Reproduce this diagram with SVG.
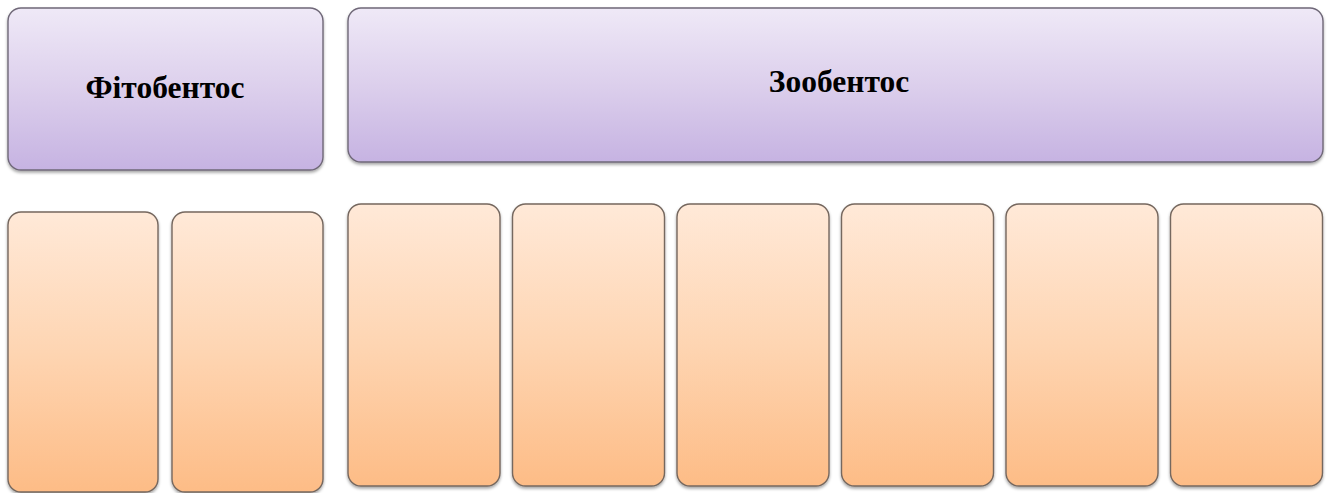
<svg xmlns="http://www.w3.org/2000/svg" width="1330" height="493" viewBox="0 0 1330 493">
<defs>
<linearGradient id="gp" x1="0" y1="0" x2="0" y2="1"><stop offset="0" stop-color="#EFE9F7"/><stop offset="0.5" stop-color="#DCCFEC"/><stop offset="1" stop-color="#C6B3E2"/></linearGradient>
<linearGradient id="go" x1="0" y1="0" x2="0" y2="1"><stop offset="0" stop-color="#FFE9D8"/><stop offset="0.5" stop-color="#FED5B2"/><stop offset="1" stop-color="#FDBC86"/></linearGradient>
<filter id="sh" x="-5%" y="-5%" width="110%" height="115%"><feDropShadow dx="0" dy="2" stdDeviation="1.5" flood-color="#000" flood-opacity="0.35"/></filter>
</defs>
<style>
.p{fill:url(#gp);stroke:#6f6878;stroke-width:1.4;filter:url(#sh)}
.o{fill:url(#go);stroke:#75675e;stroke-width:1.4;filter:url(#sh)}
.t{font-family:"Liberation Serif","DejaVu Serif",serif;font-weight:bold;font-size:31.5px;fill:#000;text-anchor:middle}
</style>
<g id="fitobentos"><rect class="p" x="8" y="8" width="315" height="162" rx="13"/><text class="t" x="165" y="98">Фітобентос</text></g>
<g id="zoobentos"><rect class="p" x="348" y="8" width="975" height="154" rx="13"/><text class="t" x="839" y="92">Зообентос</text></g>
<g id="f1"><rect class="o" x="8" y="212" width="150" height="280" rx="13"/></g>
<g id="f2"><rect class="o" x="172" y="212" width="151" height="280" rx="13"/></g>
<g id="z1"><rect class="o" x="348" y="204" width="152" height="282" rx="13"/></g>
<g id="z2"><rect class="o" x="512.5" y="204" width="152" height="282" rx="13"/></g>
<g id="z3"><rect class="o" x="677" y="204" width="152" height="282" rx="13"/></g>
<g id="z4"><rect class="o" x="841.5" y="204" width="152" height="282" rx="13"/></g>
<g id="z5"><rect class="o" x="1006" y="204" width="152" height="282" rx="13"/></g>
<g id="z6"><rect class="o" x="1170.5" y="204" width="152" height="282" rx="13"/></g>
<g id="connectors"/>
</svg>
